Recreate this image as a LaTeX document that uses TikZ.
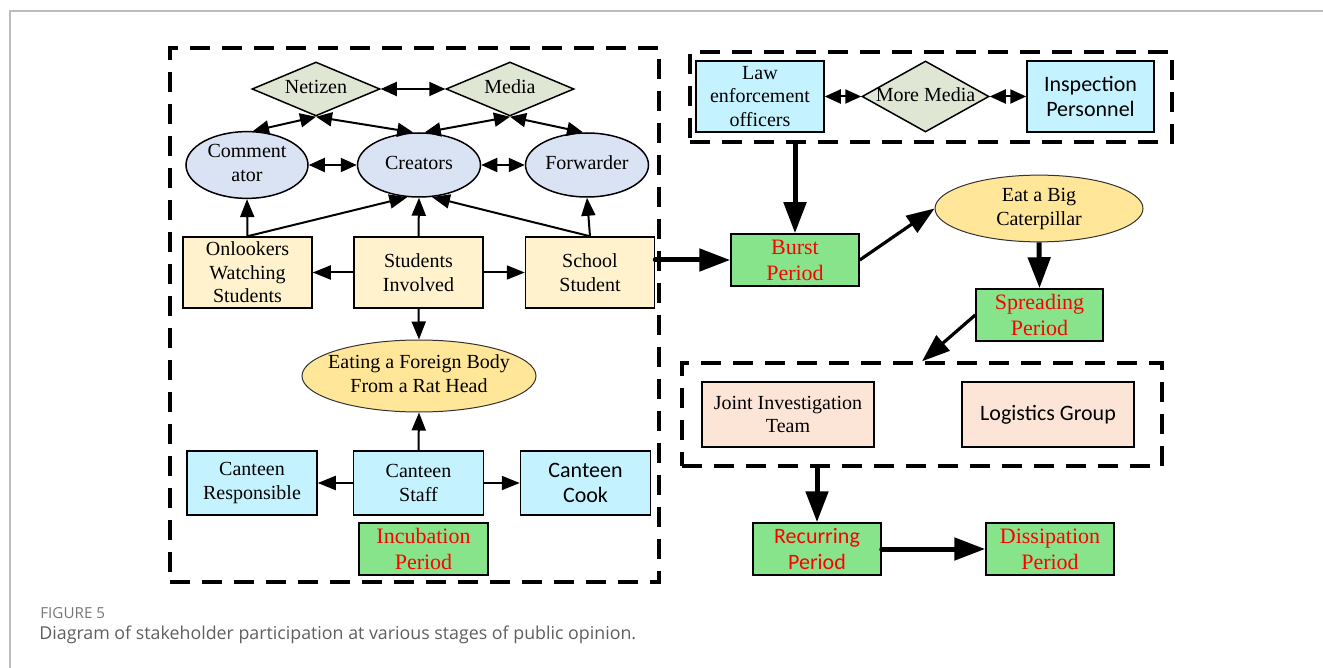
\documentclass[tikz,border=0pt]{standalone}
\usepackage{fontspec}
\setmainfont{Liberation Serif}
\newfontfamily\carlito{Carlito}
\newfontfamily\opsans{Open Sans}
\usetikzlibrary{shapes.geometric,arrows.meta,calc}
\definecolor{cYel}{HTML}{FFF2CC}
\definecolor{cBlu}{HTML}{DAE3F3}
\definecolor{cDia}{HTML}{DFE6D3}
\definecolor{cCya}{HTML}{C4F2FF}
\definecolor{cGrn}{HTML}{88E48A}
\definecolor{cOra}{HTML}{FFE699}
\definecolor{cPea}{HTML}{FCE4D6}
\definecolor{cRed}{HTML}{FF0000}
\definecolor{cFrame}{HTML}{BDBDBD}
\definecolor{cCap}{HTML}{5F5F5F}
\newcommand{\zt}[1]{\makebox[0pt]{\begin{tabular}{@{}c@{}}#1\end{tabular}}}
\begin{document}
\begin{tikzpicture}[x=0.5pt,y=-0.5pt,
  serif/.style={font=\fontsize{10}{11.8}\selectfont},
  sans/.style={font=\carlito\fontsize{11}{12.6}\selectfont},
  per/.style={font=\fontsize{11}{13}\selectfont, text=cRed},
  bx/.style={draw, line width=0.75pt, inner sep=0pt, align=center},
  ybox/.style={bx, serif, fill=cYel, minimum width=64.5pt, minimum height=35.5pt},
  cbox/.style={bx, fill=cCya, minimum width=65pt, minimum height=32pt},
  gbox/.style={bx, fill=cGrn, minimum width=64pt, minimum height=26pt},
  pbox/.style={bx, fill=cPea, minimum width=86pt, minimum height=32.5pt},
  ell/.style={ellipse, draw, line width=0.75pt, inner sep=0pt, serif, fill=cBlu, minimum width=61pt, minimum height=32pt},
  oell/.style={ellipse, draw=black!80, line width=0.5pt, inner sep=0pt, serif, fill=cOra},
  dia/.style={diamond, draw, line width=0.75pt, inner sep=0pt, serif, fill=cDia},
  grp/.style={draw, dash pattern=on 10pt off 6pt, line width=1.7pt, inner sep=0pt},
  ar/.style={line width=1pt, -{Triangle[length=9pt,width=7pt]}},
  dar/.style={line width=1pt, {Triangle[length=8pt,width=7pt]}-{Triangle[length=8pt,width=7pt]}},
  thk/.style={line width=2.5pt, -{Triangle[length=15.5pt,width=11pt]}},
  mdar/.style={line width=1.6pt, -{Triangle[length=14pt,width=10pt]}}
]
\useasboundingbox (0,0) rectangle (1323,668);
% page frame
\draw[cFrame, line width=1pt] (9.5,668) -- (9.5,11) -- (1323,11);

% group boxes
\node[grp, minimum width=244.5pt, minimum height=267pt] (boxL) at (414.5,315) {};
\node[grp, minimum width=241pt, minimum height=45pt] (boxT) at (931,97) {};
\node[grp, minimum width=240pt, minimum height=51.5pt] (boxB) at (922,414.5) {};

% left group
\node[dia, minimum width=64pt, minimum height=27pt] (net) at (316,89) {\zt{Netizen}};
\node[dia, minimum width=64pt, minimum height=27pt] (med) at (510,89) {\zt{Media}};
\node[ell] (com) at (247,165) {\zt{Comment\\ator}};
\node[ell, minimum width=61.5pt] (cre) at (419,165) {\zt{Creators}};
\node[ell, minimum width=61.5pt] (fwd) at (587,165) {\zt{Forwarder}};
\node[ybox] (onl) at (247.5,272.5) {Onlookers\\Watching\\Students};
\node[ybox] (stu) at (418.5,272.5) {Students\\Involved};
\node[ybox] (sch) at (590,272.5) {School\\Student};
\node[oell, minimum width=117pt, minimum height=36pt] (rat) at (419,376) {\zt{Eating a Foreign Body\\From a Rat Head}};
\node[cbox, serif] (crs) at (252,483) {Canteen\\Responsible};
\node[cbox, serif] (cst) at (418.5,483) {Canteen\\Staff};
\node[cbox, sans] (cck) at (585.5,483) {Canteen\\Cook};
\node[gbox, per, minimum width=64.5pt] (inc) at (423.5,549) {Incubation\\Period};

% right side
\node[cbox, serif, minimum width=64pt, minimum height=35.5pt] (law) at (760,96.5) {Law\\enforcement\\officers};
\node[dia, minimum width=63.5pt, minimum height=35.5pt] (mm) at (925.5,96.5) {\zt{More Media}};
\node[cbox, sans, minimum width=63.5pt, minimum height=35.5pt] (insp) at (1090.5,96.5) {Inspection\\Personnel};
\node[gbox, per] (burst) at (795,260) {Burst\\Period};
\node[oell, minimum width=104pt, minimum height=31.5pt] (cat) at (1039,208.5) {\zt{Eat a Big\\Caterpillar}};
\node[gbox, per, minimum width=63.5pt] (spr) at (1039.5,315) {Spreading\\Period};
\node[pbox, serif] (jit) at (788,414.5) {Joint Investigation\\Team};
\node[pbox, sans] (log) at (1048,414.5) {Logistics Group};
\node[gbox, sans, text=cRed] (rec) at (817,549) {Recurring\\Period};
\node[gbox, per] (dis) at (1050,549) {Dissipation\\Period};

% caption
\node[anchor=west, inner sep=0pt, font=\opsans\fontsize{7.6}{9}\selectfont, text=cCap!85] (cap1) at (40,613) {FIGURE 5};
\node[anchor=west, inner sep=0pt, font=\opsans\fontsize{8.9}{10.6}\selectfont, text=cCap] (cap2) at (39,635) {Diagram of stakeholder participation at various stages of public opinion.};

% left connectors
\draw[dar] (net.east) -- (med.west);
\draw[dar] (net.south) -- (com.80);
\draw[dar] (net.south) -- (cre.100);
\draw[dar] (med.south) -- (cre.80);
\draw[dar] (med.south) -- (fwd.97);
\draw[dar] (com.east) -- (cre.west);
\draw[dar] (cre.east) -- (fwd.west);
\draw[ar] (onl.north) -- (com.south);
\draw[ar] (onl.north) -- (cre.-110);
\draw[ar] (stu.north) -- (cre.south);
\draw[ar] (sch.north) -- (cre.-68);
\draw[ar] (sch.north) -- (fwd.south);
\draw[ar] (stu.west) -- (onl.east);
\draw[ar] (stu.east) -- (sch.west);
\draw[ar] (stu.south) -- (rat.north);
\draw[ar] (cst.north) -- (rat.south);
\draw[ar] (cst.west) -- (crs.east);
\draw[ar] (cst.east) -- (cck.west);

% right connectors
\draw[dar] (law.east) -- (mm.west);
\draw[dar] (mm.east) -- (insp.west);
\draw[thk] (boxT.south -| burst.north) -- (burst.north);
\draw[thk, line cap=round] (burst.west -| sch.east) -- (burst.west);
\draw[mdar] (burst.east) -- (cat.west);
\draw[thk] (cat.south) -- (spr.north);
\draw[mdar] (spr.west) -- (boxB.north);
\draw[thk] (boxB.south -| rec.north) -- (rec.north);
\draw[thk, line cap=round] (rec.east) -- (dis.west);
\end{tikzpicture}
\end{document}
